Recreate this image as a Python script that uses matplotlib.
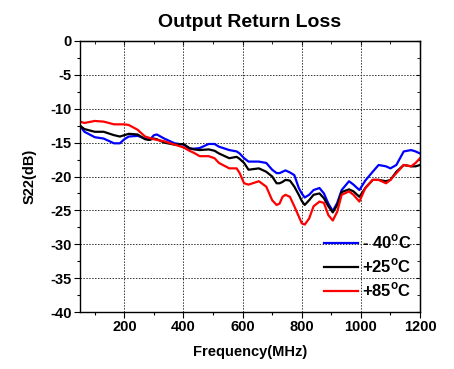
import numpy as np
import matplotlib.pyplot as plt

plt.rcParams['font.family'] = ['Liberation Sans', 'DejaVu Sans']
plt.rcParams['font.weight'] = 'bold'
plt.rcParams['axes.unicode_minus'] = False
plt.rcParams['mathtext.fontset'] = 'custom'
plt.rcParams['mathtext.rm'] = 'Liberation Sans:bold'
plt.rcParams['mathtext.bf'] = 'Liberation Sans:bold'

# frequency points (MHz)
freq = [50, 65, 100, 130, 165, 185, 200, 215, 245, 270, 285, 300, 310, 335, 370,
        400, 420, 435, 455, 485, 505, 520, 555, 580, 590, 605, 620, 655, 680, 700,
        715, 725, 735, 745, 760, 775, 790, 800, 810, 825, 840, 860, 875, 890, 905,
        920, 935, 960, 975, 995, 1015, 1040, 1060, 1085, 1100, 1120, 1145, 1170,
        1185, 1200]

# S22 in dB for each temperature
s22_m40 = [-12.5, -13.4, -14.2, -14.4, -15.1, -15.1, -14.5, -14.1, -14.0, -14.4,
           -14.6, -13.9, -13.8, -14.4, -15.1, -15.3, -15.9, -15.9, -15.8, -15.2,
           -15.2, -15.6, -16.1, -16.3, -16.6, -17.3, -17.8, -17.8, -18.0, -19.0,
           -19.5, -19.5, -19.3, -19.1, -19.4, -19.8, -21.7, -22.5, -23.1, -22.7,
           -22.0, -21.7, -22.5, -24.0, -25.1, -23.9, -22.0, -20.7, -21.2, -22.0,
           -20.6, -19.3, -18.3, -18.5, -18.8, -18.3, -16.3, -16.1, -16.3, -16.6]
s22_p25 = [-12.5, -13.0, -13.4, -13.4, -13.9, -14.1, -13.9, -13.7, -13.8, -14.5,
           -14.6, -14.4, -14.5, -15.0, -15.3, -15.2, -15.8, -16.0, -16.1, -16.0,
           -16.2, -16.6, -17.3, -17.1, -17.4, -18.0, -19.0, -18.8, -19.3, -20.0,
           -21.0, -21.0, -20.8, -20.5, -20.6, -21.5, -22.7, -23.6, -24.2, -23.5,
           -22.7, -22.5, -23.2, -24.4, -25.3, -24.2, -22.3, -21.9, -22.2, -23.0,
           -21.7, -20.5, -20.5, -20.7, -20.5, -19.3, -18.3, -18.5, -18.5, -18.3]
s22_p85 = [-11.9, -12.1, -11.8, -11.9, -12.3, -12.3, -12.3, -12.4, -13.1, -14.1,
           -14.3, -14.5, -14.6, -14.8, -15.3, -15.7, -16.2, -16.5, -17.0, -17.0,
           -17.3, -18.0, -18.8, -18.8, -19.5, -21.0, -21.2, -20.7, -21.5, -23.5,
           -24.2, -24.0, -23.0, -22.7, -23.0, -24.4, -25.9, -26.9, -27.1, -26.2,
           -24.4, -23.7, -23.9, -25.7, -26.5, -25.2, -22.7, -22.2, -22.7, -23.7,
           -21.7, -20.5, -20.5, -21.0, -20.5, -19.5, -18.3, -18.5, -18.0, -17.3]

labels = [r'- 40$^{\mathbf{o}}$C', r'+25$^{\mathbf{o}}$C', r'+85$^{\mathbf{o}}$C']
colors = ['#0000ff', '#000000', '#ff0000']

fig = plt.figure(figsize=(4.54, 3.69), dpi=100)
ax = fig.add_axes([80 / 454, 1 - 312 / 369, 340 / 454, 271 / 369])

for s, lab, c in zip([s22_m40, s22_p25, s22_p85], labels, colors):
    ax.plot(freq, s, color=c, lw=1.6, label=lab)

ax.set_xlim(50, 1200)
ax.set_ylim(-40, 0)
ax.set_xticks(np.arange(200, 1201, 200))
ax.set_xticks(np.arange(100, 1201, 100), minor=True)
ax.set_yticks(np.arange(-40, 1, 5))
ax.set_yticks(np.arange(-37.5, 0, 2.5), minor=True)
ax.tick_params(direction='out', labelsize=10.5, length=4, width=0.8, pad=2)
ax.tick_params(which='minor', direction='out', length=2.5, width=0.8)
ax.grid(True, which='major', color='#333333', ls=(0, (1.5, 1.5)), lw=0.7)

# inward ticks on the top and right frame
top = ax.secondary_xaxis('top')
top.set_xticks(np.arange(200, 1201, 200))
top.set_xticks(np.arange(100, 1201, 100), minor=True)
top.tick_params(direction='in', length=3, labeltop=False)
top.tick_params(which='minor', direction='in', length=2)
right = ax.secondary_yaxis('right')
right.set_yticks(np.arange(-40, 1, 5))
right.set_yticks(np.arange(-37.5, 0, 2.5), minor=True)
right.tick_params(direction='in', length=3, labelright=False)
right.tick_params(which='minor', direction='in', length=2)

for sp in ax.spines.values():
    sp.set_linewidth(1.0)

ax.set_xlabel('Frequency(MHz)', fontsize=10.5, fontweight='bold', labelpad=8)
ax.set_ylabel('S22(dB)', fontsize=10.5, fontweight='bold', labelpad=10)
ax.set_title('Output Return Loss', fontsize=14, fontweight='bold', pad=10)

ax.legend(loc='lower right', bbox_to_anchor=(1.0, 0.015), frameon=False,
          fontsize=12, handlelength=2.05, handletextpad=0.2, labelspacing=0.32,
          borderaxespad=0.1)

fig.savefig('out.png', dpi=100)
